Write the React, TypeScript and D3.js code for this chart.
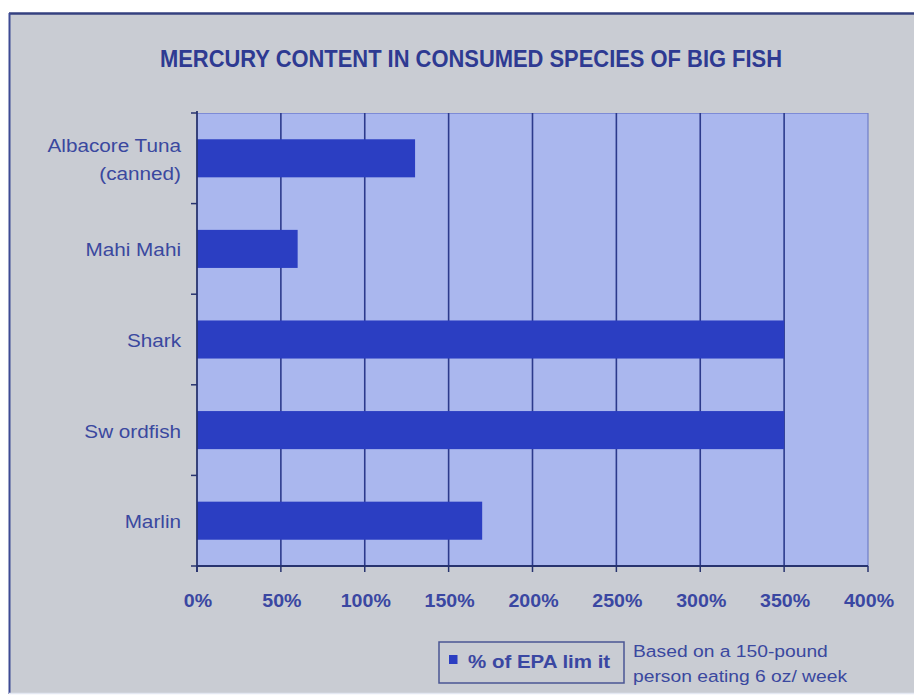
import React from "react";
import * as d3 from "d3";

const categories = ["Albacore Tuna|(canned)", "Mahi Mahi", "Shark", "Sw ordfish", "Marlin"];
const values = [130, 60, 350, 350, 170];
const xTicks = [0, 50, 100, 150, 200, 250, 300, 350, 400];
const title = "MERCURY CONTENT IN CONSUMED SPECIES OF BIG FISH";
const legendLabel = "% of EPA lim it";
const noteLines = ["Based on a 150-pound", "person eating 6 oz/ week"];

const W = 914;
const H = 696;
const FONT = "'Liberation Sans', Arial, Helvetica, sans-serif";
const SX = 1.12;

function SText(props: any) {
  const { x, y, anchor = "start", size, weight = "normal", fill, children, baseline = "central" } = props;
  return (
    <text
      transform={`translate(${x},${y}) scale(${SX},1)`}
      textAnchor={anchor}
      fontSize={size}
      fontWeight={weight}
      fill={fill}
      fontFamily={FONT}
      dominantBaseline={baseline}
    >
      {children}
    </text>
  );
}

export default function App() {
  const x = d3.scaleLinear().domain([0, 400]).range([197, 868]);
  const y = d3.scaleBand<string>().domain(categories).range([113, 566]).padding(0);
  const bw = y.bandwidth();
  const barH = bw * 0.42;
  const plotTop = 113;
  const plotBottom = 566;
  const plotLeft = x(0);
  const plotRight = x(400);
  const labelColor = "#3a489f";
  const gridColor = "#2c3a8c";

  return (
    <svg
      width={W}
      height={H}
      style={{ position: "absolute", left: 0, top: 0 }}
      xmlns="http://www.w3.org/2000/svg"
    >
      <rect x={0} y={0} width={W} height={H} fill="#ffffff" />
      {/* outer frame */}
      <rect x={9} y={13} width={W - 9} height={681} fill="#c9ccd3" />
      <line x1={9} y1={13.5} x2={W} y2={13.5} stroke="#34407f" strokeWidth={2.5} />
      <line x1={9.5} y1={13} x2={9.5} y2={694} stroke="#3d4a94" strokeWidth={2} />
      <line x1={9} y1={693.5} x2={W} y2={693.5} stroke="#e4e8f2" strokeWidth={1.5} />

      {/* title */}
      <text
        x={471}
        y={58}
        textAnchor="middle"
        dominantBaseline="central"
        fontFamily={FONT}
        fontWeight="bold"
        fontSize={24}
        fill="#2e3a92"
        textLength={622}
        lengthAdjust="spacingAndGlyphs"
      >
        {title}
      </text>

      {/* plot area */}
      <rect x={plotLeft} y={plotTop} width={plotRight - plotLeft} height={plotBottom - plotTop} fill="#aab7ee" />
      <line x1={plotLeft} y1={plotTop + 0.5} x2={plotRight} y2={plotTop + 0.5} stroke="#7d8bd6" strokeWidth={1.2} />
      <line x1={plotRight} y1={plotTop} x2={plotRight} y2={plotBottom} stroke="#6f7ec8" strokeWidth={1.2} />

      {/* grid lines */}
      {xTicks.slice(1, -1).map((t) => (
        <line key={"g" + t} x1={x(t)} y1={plotTop} x2={x(t)} y2={plotBottom} stroke={gridColor} strokeWidth={1.6} />
      ))}

      {/* bars */}
      {categories.map((c, i) => (
        <rect
          key={c}
          x={x(0)}
          y={(y(c) as number) + bw / 2 - barH / 2}
          width={x(values[i]) - x(0)}
          height={barH}
          fill="#2b3ec2"
        />
      ))}

      {/* axes */}
      <line x1={plotLeft} y1={plotTop - 2} x2={plotLeft} y2={plotBottom + 6} stroke="#27336f" strokeWidth={1.8} />
      <line x1={plotLeft - 1} y1={plotBottom} x2={plotRight} y2={plotBottom} stroke="#27336f" strokeWidth={1.8} />
      {categories.map((c) => (
        <line key={"yt" + c} x1={plotLeft - 6} y1={y(c) as number} x2={plotLeft} y2={y(c) as number} stroke="#27336f" strokeWidth={1.5} />
      ))}
      <line x1={plotLeft - 6} y1={plotBottom} x2={plotLeft} y2={plotBottom} stroke="#27336f" strokeWidth={1.5} />
      {xTicks.map((t) => (
        <line key={"xt" + t} x1={x(t)} y1={plotBottom} x2={x(t)} y2={plotBottom + 6} stroke="#27336f" strokeWidth={1.5} />
      ))}

      {/* category labels */}
      {categories.map((c) => {
        const lines = c.split("|");
        const cy = (y(c) as number) + bw / 2 + 1;
        return lines.map((ln, j) => (
          <SText
            key={c + j}
            x={181}
            y={cy + (lines.length === 1 ? 0 : (j - 0.5) * 28)}
            anchor="end"
            size={18.5}
            fill={labelColor}
          >
            {ln}
          </SText>
        ));
      })}

      {/* x tick labels */}
      {xTicks.map((t) => (
        <SText key={"xl" + t} x={x(t) + 1} y={601} anchor="middle" size={17.5} weight="bold" fill="#3a47a2">
          {t + "%"}
        </SText>
      ))}

      {/* legend */}
      <rect x={439} y={642} width={185} height={41} fill="none" stroke="#4a5594" strokeWidth={1.5} />
      <rect x={449} y={655} width={8.5} height={9} fill="#2b3ec2" />
      <SText x={468} y={661} size={18.3} weight="bold" fill="#3a47a2">
        {legendLabel}
      </SText>
      {noteLines.map((ln, i) => (
        <SText key={"n" + i} x={633} y={651 + i * 25} size={17.2} fill={labelColor}>
          {ln}
        </SText>
      ))}
    </svg>
  );
}
